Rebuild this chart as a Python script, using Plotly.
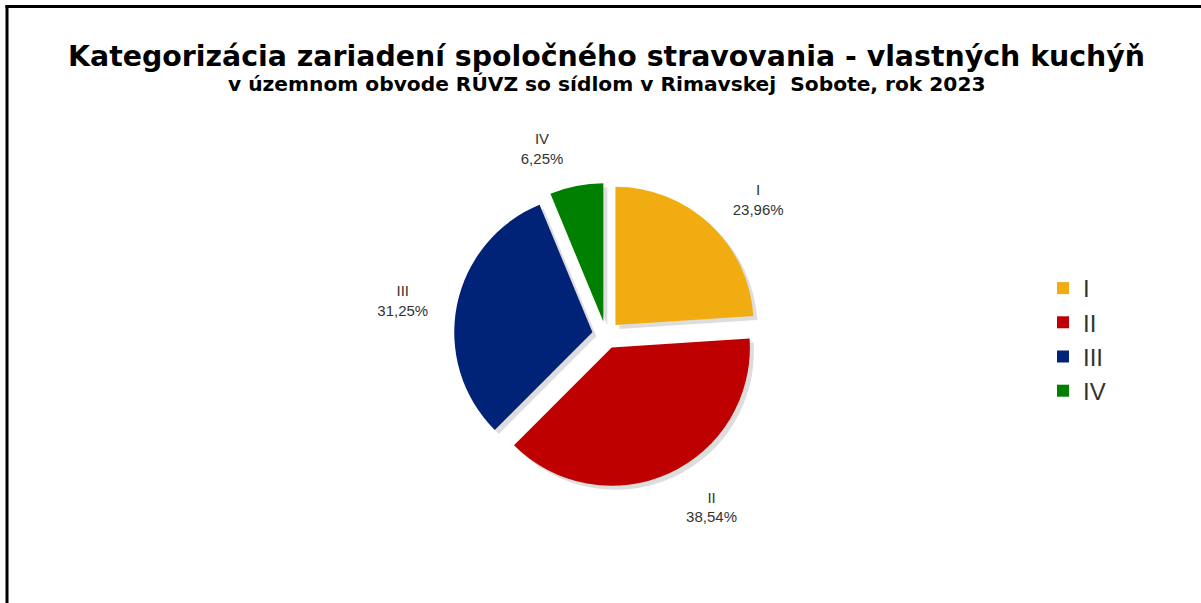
import plotly.graph_objects as go

categories = ["I", "II", "III", "IV"]
counts = [23, 37, 30, 6]
colors = ["#F0AC10", "#BE0000", "#002277", "#008000"]
title_text = "Kategorizácia zariadení spoločného stravovania - vlastných kuchýň"
subtitle_text = "v územnom obvode RÚVZ so sídlom v Rimavskej  Sobote, rok 2023"

W, H = 1201, 603
cx, cy, half = 606, 335, 152
sh = 4  # shadow offset px
label_half = 172

def dom(dx, dy, h=half):
    return dict(x=[(cx - h + dx) / W, (cx + h + dx) / W],
                y=[1 - (cy + h + dy) / H, 1 - (cy - h + dy) / H])

fig = go.Figure()
# invisible carrier of the outside labels (slightly larger radius)
fig.add_trace(go.Pie(
    labels=categories, values=counts, sort=False, direction="clockwise", rotation=0,
    marker=dict(colors=["rgba(0,0,0,0)"] * 4, line=dict(width=0)),
    texttemplate="%{label}<br>%{percent:.2%}", textposition="outside",
    outsidetextfont=dict(family="Liberation Sans, Arial", size=15, color="#333333"),
    showlegend=False, hoverinfo="skip", domain=dom(0, 0, label_half),
))
# shadow
fig.add_trace(go.Pie(
    labels=categories, values=counts, sort=False, direction="clockwise", rotation=0,
    pull=0.1, marker=dict(colors=["#DDDDDD"] * 4, line=dict(width=0)),
    textinfo="none", showlegend=False, hoverinfo="skip", domain=dom(sh, sh),
))
fig.add_trace(go.Pie(
    labels=categories, values=counts, sort=False, direction="clockwise", rotation=0,
    pull=0.1, marker=dict(colors=colors, line=dict(width=0)),
    textinfo="none", domain=dom(0, 0),
))

fig.update_layout(
    width=W, height=H,
    margin=dict(l=0, r=0, t=0, b=0),
    paper_bgcolor="white", plot_bgcolor="white",
    separators=", ",
    title=dict(
        text="<b>" + title_text + "</b>",
        font=dict(family="DejaVu Sans", size=28.4, color="#000000"),
        x=606.5 / W, xanchor="center", xref="paper", y=1 - 56 / H, yanchor="middle", yref="container",
    ),
    legend=dict(
        x=1043 / W, y=1 - 266 / H, xanchor="left", yanchor="top",
        font=dict(family="Liberation Sans, Arial", size=24, color="#333333"),
        bgcolor="rgba(0,0,0,0)",
    ),
    annotations=[dict(
        text="<b>" + subtitle_text + "</b>", x=606.5 / W, y=1 - 84 / H, xref="paper", yref="paper",
        xanchor="center", yanchor="middle", showarrow=False,
        font=dict(family="DejaVu Sans", size=20.2, color="#000000"),
    )],
    shapes=[
        dict(type="line", xref="paper", yref="paper", x0=5.5 / W, x1=1, y0=1 - 6.5 / H, y1=1 - 6.5 / H,
             line=dict(color="#000000", width=3)),
        dict(type="line", xref="paper", yref="paper", x0=7 / W, x1=7 / W, y0=0, y1=1 - 5 / H,
             line=dict(color="#000000", width=3)),
    ],
)

fig.write_html("out.html", config={"displayModeBar": False},
               post_script="document.body.style.margin='0px';")
